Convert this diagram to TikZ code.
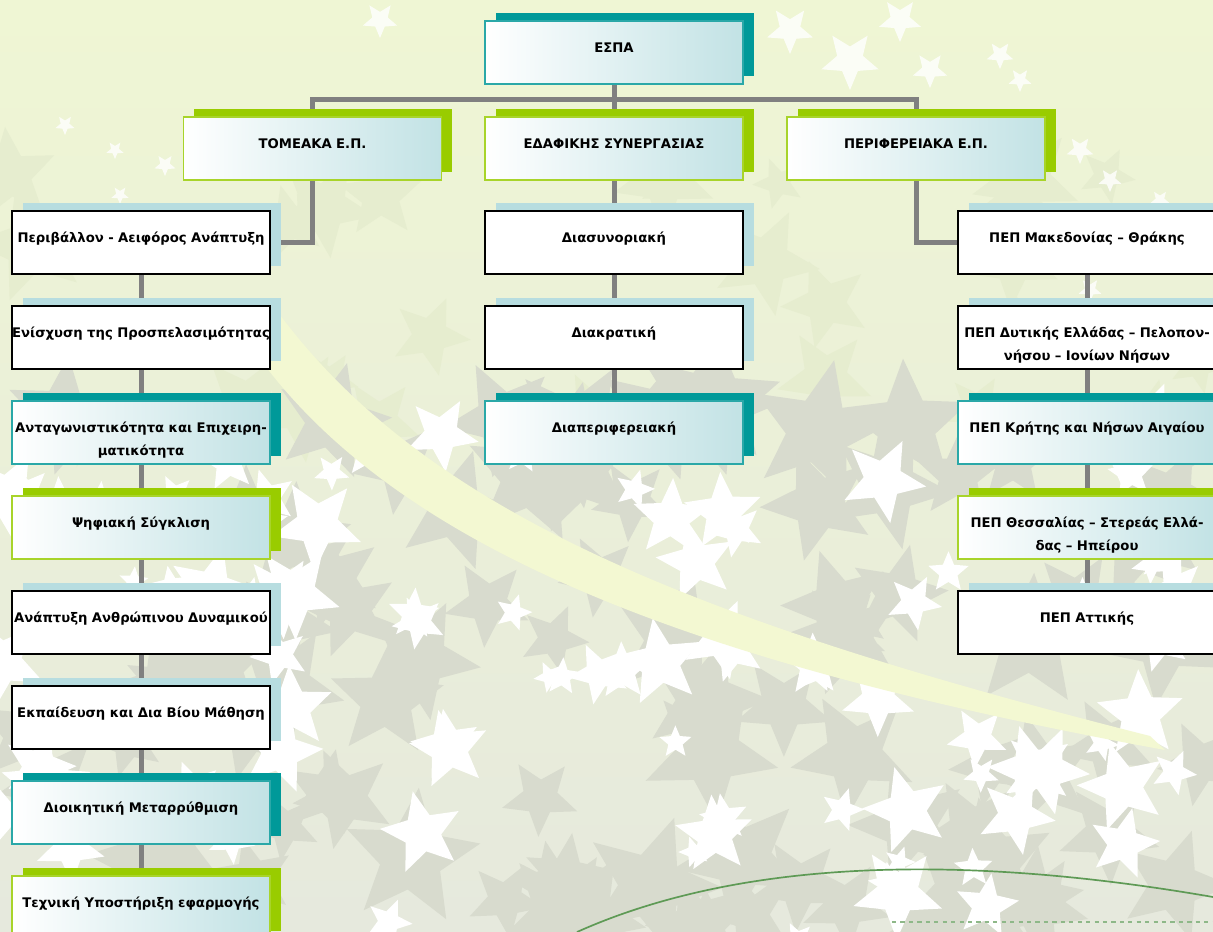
\documentclass[tikz,border=0pt]{standalone}
\usepackage{fontspec}
\setmainfont{DejaVu Sans}
\usepackage{xcolor}
\usepackage{tikz}
\usetikzlibrary{positioning, calc, backgrounds, shadows}

\definecolor{tealdark}{HTML}{009999}
\definecolor{tealline}{HTML}{2AA8A8}
\definecolor{limegreen}{HTML}{99CC00}
\definecolor{limeline}{HTML}{A8D42A}
\definecolor{paleblue}{HTML}{B7DDE0}
\definecolor{linegray}{HTML}{808080}
\definecolor{bgtop}{HTML}{EFF6D4}
\definecolor{bgbottom}{HTML}{E6E9DD}
\definecolor{stargray}{HTML}{D8DBCE}
\definecolor{starpale}{HTML}{E6EDCF}
\definecolor{swoosh}{HTML}{F3F8D2}
\definecolor{curvegreen}{HTML}{5E9A55}

\begin{document}
\begin{tikzpicture}[
    x=0.025cm, y=-0.025cm,
    % Node styles
    box/.style={rectangle, minimum width=6.45cm, minimum height=1.575cm, text width=6.45cm, inner xsep=0pt, inner ysep=0pt, align=center, text height=4pt, text depth=4pt, font=\fontsize{9.4}{16.3}\selectfont\bfseries, line width=1.3pt},
    plainbox/.style={box, draw=black, fill=white, general shadow={fill=paleblue, shadow xshift=0.27cm, shadow yshift=0.2cm}},
    tealbox/.style={box, draw=tealline, left color=white, right color=paleblue!85, general shadow={fill=tealdark, shadow xshift=0.27cm, shadow yshift=0.2cm}},
    greenbox/.style={box, draw=limeline, left color=white, right color=paleblue!85, general shadow={fill=limegreen, shadow xshift=0.27cm, shadow yshift=0.2cm}},
    conn/.style={draw=linegray, line width=0.125cm}
]
\useasboundingbox (0,0) rectangle (1213,932);

% ========== BACKGROUND ==========
\begin{scope}[on background layer]
    \shade[top color=bgtop, bottom color=bgbottom] (0,0) rectangle (1213,932);
    \pgfmathsetseed{17}
    % pale stars in the middle band
    \foreach \k in {1,...,30} {
        \pgfmathsetmacro\sx{rnd*1213}
        \pgfmathsetmacro\sy{170+rnd*260}
        \pgfmathsetmacro\sr{25+rnd*35}
        \pgfmathsetmacro\sa{rnd*72}
        \fill[starpale, shift={(\sx,\sy)}, rotate=\sa, scale=\sr] plot[variable=\t, samples at={0,...,9}] ({90+36*\t}:{1-0.55*mod(\t,2)}) -- cycle;
    }
    % grey stars in the lower part
    \foreach \k in {1,...,90} {
        \pgfmathsetmacro\sx{rnd*1213}
        \pgfmathsetmacro\sy{390+rnd*560}
        \pgfmathsetmacro\sr{35+rnd*40}
        \pgfmathsetmacro\sa{rnd*72}
        \fill[stargray, shift={(\sx,\sy)}, rotate=\sa, scale=\sr] plot[variable=\t, samples at={0,...,9}] ({90+36*\t}:{1-0.55*mod(\t,2)}) -- cycle;
    }
    % white stars in the lower part
    \foreach \k in {1,...,90} {
        \pgfmathsetmacro\sx{rnd*1213}
        \pgfmathsetmacro\sy{420+rnd*520}
        \pgfmathsetmacro\sr{14+rnd*34}
        \pgfmathsetmacro\sa{rnd*72}
        \fill[white, shift={(\sx,\sy)}, rotate=\sa, scale=\sr] plot[variable=\t, samples at={0,...,9}] ({90+36*\t}:{1-0.55*mod(\t,2)}) -- cycle;
    }
    % white stars near the top
    \foreach \sx/\sy/\sr in {380/20/18, 790/30/24, 850/60/30, 900/20/22, 930/70/18, 1000/55/14, 1020/80/12, 1040/120/12, 1080/150/14, 1110/180/12, 1160/200/10, 1090/290/12, 65/125/10, 115/150/9, 165/165/11, 120/195/9, 700/60/18}
        \fill[white, opacity=0.8, shift={(\sx,\sy)}, scale=\sr] plot[variable=\t, samples at={0,...,9}] ({90+36*\t}:{1-0.55*mod(\t,2)}) -- cycle;
    % swoosh
    \fill[swoosh] (240,330) .. controls (380,550) and (700,665) .. (1165,750)
        -- (1150,736) .. controls (700,622) and (430,515) .. (280,315) -- cycle;
    % bottom curve and dashed line
    \draw[curvegreen, line width=1.2pt] (577,932) .. controls (760,850) and (1000,860) .. (1213,897);
    \draw[curvegreen!70, line width=1pt, dashed] (892,922) -- (1213,922);
\end{scope}

% ========== LEVEL 0 / 1 ==========
\node[tealbox] (espa) at (614,52.5) {ΕΣΠΑ};
\node[greenbox] (tomeaka) at (312.5,148.5) {ΤΟΜΕΑΚΑ Ε.Π.};
\node[greenbox] (edaf) at (614,148.5) {ΕΔΑΦΙΚΗΣ ΣΥΝΕΡΓΑΣΙΑΣ};
\node[greenbox] (perif) at (916,148.5) {ΠΕΡΙΦΕΡΕΙΑΚΑ Ε.Π.};

% ========== LEFT COLUMN ==========
\node[plainbox] (perib) at (141,242.5) {Περιβάλλον - Αειφόρος Ανάπτυξη};
\node[plainbox] (enisx) at (141,337.5) {Ενίσχυση της Προσπελασιμότητας};
\node[tealbox] (antag) at (141,432.5) {Ανταγωνιστικότητα και Επιχειρη-\\ματικότητα};
\node[greenbox] (psif) at (141,527.5) {Ψηφιακή Σύγκλιση};
\node[plainbox] (anapt) at (141,622.5) {Ανάπτυξη Ανθρώπινου Δυναμικού};
\node[plainbox] (ekp) at (141,717.5) {Εκπαίδευση και Δια Βίου Μάθηση};
\node[tealbox] (dioik) at (141,812.5) {Διοικητική Μεταρρύθμιση};
\node[greenbox] (techn) at (141,907.5) {Τεχνική Υποστήριξη εφαρμογής};

% ========== MIDDLE COLUMN ==========
\node[plainbox] (diasyn) at (614,242.5) {Διασυνοριακή};
\node[plainbox] (diakr) at (614,337.5) {Διακρατική};
\node[tealbox] (diaper) at (614,432.5) {Διαπεριφερειακή};

% ========== RIGHT COLUMN ==========
\node[plainbox] (pmak) at (1087,242.5) {ΠΕΠ Μακεδονίας – Θράκης};
\node[plainbox] (pdyt) at (1087,337.5) {ΠΕΠ Δυτικής Ελλάδας – Πελοπον-\\νήσου – Ιονίων Νήσων};
\node[tealbox] (pkrit) at (1087,432.5) {ΠΕΠ Κρήτης και Νήσων Αιγαίου};
\node[greenbox] (pthes) at (1087,527.5) {ΠΕΠ Θεσσαλίας – Στερεάς Ελλά-\\δας – Ηπείρου};
\node[plainbox] (patt) at (1087,622.5) {ΠΕΠ Αττικής};

% ========== CONNECTORS ==========
\coordinate (bar) at (614,100);
\begin{scope}[on background layer]
    \draw[conn] (espa.south) -- (edaf.north);
    \draw[conn] (tomeaka.north) |- (bar) -| (perif.north);
    \draw[conn] (tomeaka.south) |- (perib.east);
    \draw[conn] (perif.south) |- (pmak.west);
    \draw[conn] (perib) -- (enisx) -- (antag) -- (psif) -- (anapt) -- (ekp) -- (dioik) -- (techn);
    \draw[conn] (edaf) -- (diasyn) -- (diakr) -- (diaper);
    \draw[conn] (pmak) -- (pdyt) -- (pkrit) -- (pthes) -- (patt);
\end{scope}

\end{tikzpicture}
\end{document}
